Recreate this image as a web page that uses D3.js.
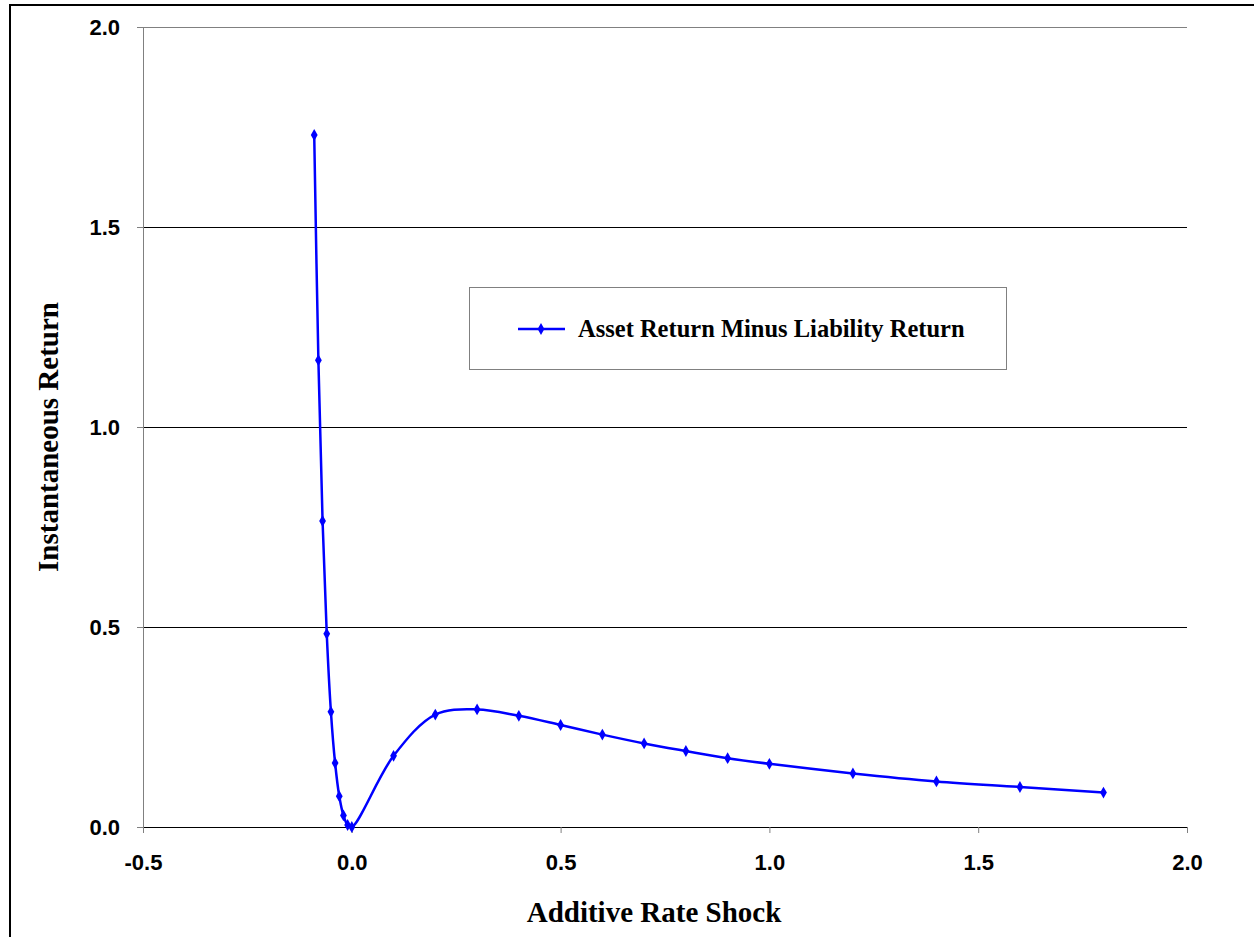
<!DOCTYPE html>
<meta charset="utf-8">
<style>
body { margin: 0; background: #fff; }
.tick-label { font-family: 'Liberation Sans', Arial, sans-serif; font-weight: bold; font-size: 22px; }
.axis-title { font-family: 'Liberation Serif', 'Times New Roman', serif; font-weight: bold; font-size: 29px; }
.legend-text { font-family: 'Liberation Serif', 'Times New Roman', serif; font-weight: bold; font-size: 24.5px; }
</style>
<body>
<div id="chart"></div>
<script src="https://d3js.org/d3.v7.min.js"></script>
<script>
// rate shock (x) and asset minus liability return (y)
var shocks = [-0.09, -0.08, -0.07, -0.06, -0.05, -0.04, -0.03, -0.02, -0.01, 0,
              0.1, 0.2, 0.3, 0.4, 0.5, 0.6, 0.7, 0.8, 0.9, 1.0, 1.2, 1.4, 1.6, 1.8];
var returns = [1.73, 1.167, 0.765, 0.483, 0.288, 0.160, 0.077, 0.029, 0.005, 0,
               0.178, 0.281, 0.294, 0.278, 0.255, 0.231, 0.209, 0.190, 0.172, 0.158,
               0.134, 0.114, 0.100, 0.086];
var xTicks = [-0.5, 0, 0.5, 1.0, 1.5, 2.0];
var yTicks = [0, 0.5, 1.0, 1.5, 2.0];
var seriesName = "Asset Return Minus Liability Return";

var width = 1254,
    height = 937;

var svg = d3.select("#chart").append("svg")
    .attr("width", width)
    .attr("height", height);

// outer chart border (right and bottom run off the page)
svg.append("rect")
    .attr("x", 10).attr("y", 5)
    .attr("width", 1260).attr("height", 960)
    .attr("fill", "none")
    .attr("stroke", "#000")
    .attr("stroke-width", 2);

var x = d3.scaleLinear().domain([-0.5, 2.0]).range([143, 1187]);
var y = d3.scaleLinear().domain([0, 2.0]).range([827, 27]);

// excel style number labels, plain hyphen for minus
var fmt = function(d) { return d.toFixed(1); };

// horizontal gridlines
svg.append("g")
    .attr("shape-rendering", "crispEdges")
  .selectAll("line")
  .data(yTicks)
  .enter().append("line")
    .attr("x1", x(-0.5)).attr("x2", x(2.0))
    .attr("y1", function(d) { return y(d) + 0.5; })
    .attr("y2", function(d) { return y(d) + 0.5; })
    .attr("stroke", function(d) { return d === 2.0 ? "#808080" : "#000"; })
    .attr("stroke-width", 1);

// y axis
var yAxis = d3.axisLeft(y)
    .tickValues(yTicks)
    .tickSize(6)
    .tickPadding(17)
    .tickFormat(fmt);

var gy = svg.append("g")
    .attr("transform", "translate(" + x(-0.5) + ",0)")
    .call(yAxis);
gy.select(".domain").attr("stroke", "#808080");
gy.selectAll(".tick line").attr("stroke", "#808080");
gy.selectAll("text").attr("class", "tick-label").attr("fill", "#000").attr("font-size", null).attr("font-family", null);

// x axis
var xAxis = d3.axisBottom(x)
    .tickValues(xTicks)
    .tickSize(6)
    .tickPadding(21)
    .tickFormat(fmt);

var gx = svg.append("g")
    .attr("transform", "translate(0," + y(0) + ")")
    .call(xAxis);
gx.select(".domain").attr("stroke", "#000");
gx.selectAll(".tick line").attr("stroke", "#808080");
gx.selectAll("text").attr("class", "tick-label").attr("fill", "#000").attr("font-size", null).attr("font-family", null);

// axis titles
svg.append("text")
    .attr("class", "axis-title")
    .attr("x", 654).attr("y", 922)
    .attr("text-anchor", "middle")
    .text("Additive Rate Shock");

svg.append("text")
    .attr("class", "axis-title")
    .attr("transform", "translate(58,437) rotate(-90)")
    .attr("text-anchor", "middle")
    .text("Instantaneous Return");

// series
var data = shocks.map(function(s, i) { return [s, returns[i]]; });

var line = d3.line()
    .x(function(d) { return x(d[0]); })
    .y(function(d) { return y(d[1]); })
    .curve(d3.curveCatmullRom.alpha(0.5));

svg.append("path")
    .datum(data)
    .attr("fill", "none")
    .attr("stroke", "#0000ff")
    .attr("stroke-width", 2.5)
    .attr("d", line);

var diamond = d3.symbol().type(d3.symbolDiamond).size(40);

svg.append("g")
  .selectAll("path")
  .data(data)
  .enter().append("path")
    .attr("transform", function(d) { return "translate(" + x(d[0]) + "," + y(d[1]) + ")"; })
    .attr("d", diamond)
    .attr("fill", "#0000ff");

// legend
var legend = svg.append("g");
legend.append("rect")
    .attr("x", 469.5).attr("y", 287.5)
    .attr("width", 537).attr("height", 82)
    .attr("fill", "#fff")
    .attr("stroke", "#808080")
    .attr("stroke-width", 1);
legend.append("line")
    .attr("x1", 518).attr("x2", 565)
    .attr("y1", 329).attr("y2", 329)
    .attr("stroke", "#0000ff")
    .attr("stroke-width", 2.5);
legend.append("path")
    .attr("transform", "translate(541,329)")
    .attr("d", diamond)
    .attr("fill", "#0000ff");
legend.append("text")
    .attr("class", "legend-text")
    .attr("x", 578).attr("y", 337)
    .text(seriesName);
</script>
</body>
